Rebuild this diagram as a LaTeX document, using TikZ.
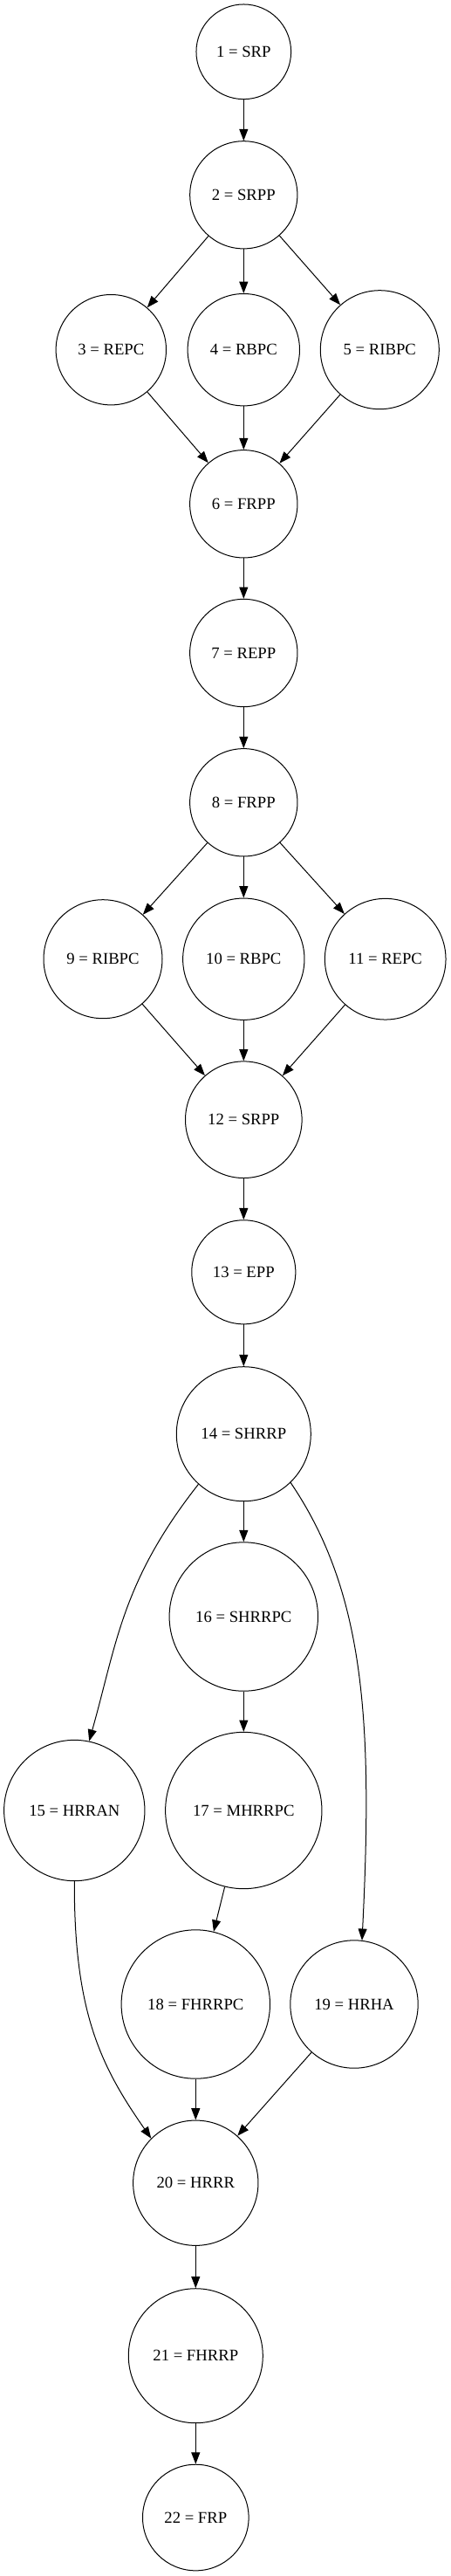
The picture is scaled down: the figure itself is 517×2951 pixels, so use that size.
\documentclass[tikz,border=0pt]{standalone}
\usepackage{fontspec}
\setmainfont{Liberation Serif}
\usetikzlibrary{arrows.meta}

\begin{document}
\begin{tikzpicture}[x=0.75pt,y=-0.75pt,line width=0.75pt,
        state/.style={circle,draw,inner sep=0pt,font=\fontsize{14}{16}\selectfont},
        edge/.style={-{Triangle[length=10pt,width=7.5pt]}}]
        \useasboundingbox (0,0) rectangle (517,2951);
        \coordinate (p1) at (279.3,59.3);
        \coordinate (p2) at (279.3,223.3);
        \coordinate (p3) at (127.3,400.7);
        \coordinate (p4) at (279.3,400.7);
        \coordinate (p5) at (435.3,400.7);
        \coordinate (p6) at (279.3,577.3);
        \coordinate (p7) at (279.3,748.0);
        \coordinate (p8) at (279.3,919.3);
        \coordinate (p9) at (118.0,1098.7);
        \coordinate (p10) at (279.3,1098.7);
        \coordinate (p11) at (441.7,1098.7);
        \coordinate (p12) at (279.3,1282.7);
        \coordinate (p13) at (279.3,1457.3);
        \coordinate (p14) at (279.3,1642.7);
        \coordinate (p15) at (85.3,2074.0);
        \coordinate (p16) at (279.3,1852.0);
        \coordinate (p17) at (279.3,2074.0);
        \coordinate (p18) at (224.3,2296.0);
        \coordinate (p19) at (406.0,2296.0);
        \coordinate (p20) at (224.3,2500.7);
        \coordinate (p21) at (224.3,2698.7);
        \coordinate (p22) at (224.3,2884.0);
        \node[state,minimum size=81.5pt] (n1) at (p1) {1 = SRP};
        \node[state,minimum size=92.4pt] (n2) at (p2) {2 = SRPP};
        \node[state,minimum size=94.8pt] (n3) at (p3) {3 = REPC};
        \node[state,minimum size=96.3pt] (n4) at (p4) {4 = RBPC};
        \node[state,minimum size=102pt] (n5) at (p5) {5 = RIBPC};
        \node[state,minimum size=92.5pt] (n6) at (p6) {6 = FRPP};
        \node[state,minimum size=92.5pt] (n7) at (p7) {7 = REPP};
        \node[state,minimum size=92.5pt] (n8) at (p8) {8 = FRPP};
        \node[state,minimum size=102pt] (n9) at (p9) {9 = RIBPC};
        \node[state,minimum size=104.5pt] (n10) at (p10) {10 = RBPC};
        \node[state,minimum size=104pt] (n11) at (p11) {11 = REPC};
        \node[state,minimum size=100.2pt] (n12) at (p12) {12 = SRPP};
        \node[state,minimum size=89.3pt] (n13) at (p13) {13 = EPP};
        \node[state,minimum size=115.5pt] (n14) at (p14) {14 = SHRRP};
        \node[state,minimum size=121pt] (n15) at (p15) {15 = HRRAN};
        \node[state,minimum size=127.8pt] (n16) at (p16) {16 = SHRRPC};
        \node[state,minimum size=134.5pt] (n17) at (p17) {17 = MHRRPC};
        \node[state,minimum size=127.8pt] (n18) at (p18) {18 = FHRRPC};
        \node[state,minimum size=109.8pt] (n19) at (p19) {19 = HRHA};
        \node[state,minimum size=107.5pt] (n20) at (p20) {20 = HRRR};
        \node[state,minimum size=115.5pt] (n21) at (p21) {21 = FHRRP};
        \node[state,minimum size=91.2pt] (n22) at (p22) {22 = FRP};
        \draw[edge] (n1) -- (n2);
        \draw[edge] (n2) -- (n3);
        \draw[edge] (n2) -- (n4);
        \draw[edge] (n2) -- (n5);
        \draw[edge] (n3) -- (n6);
        \draw[edge] (n4) -- (n6);
        \draw[edge] (n5) -- (n6);
        \draw[edge] (n6) -- (n7);
        \draw[edge] (n7) -- (n8);
        \draw[edge] (n8) -- (n9);
        \draw[edge] (n8) -- (n10);
        \draw[edge] (n8) -- (n11);
        \draw[edge] (n9) -- (n12);
        \draw[edge] (n10) -- (n12);
        \draw[edge] (n11) -- (n12);
        \draw[edge] (n12) -- (n13);
        \draw[edge] (n13) -- (n14);
        \draw[edge] (n14) -- (n16);
        \draw[edge] (n16) -- (n17);
        \draw[edge] (n17) -- (n18);
        \draw[edge] (n18) -- (n20);
        \draw[edge] (n19) -- (n20);
        \draw[edge] (n20) -- (n21);
        \draw[edge] (n21) -- (n22);
        % curved ones
        \draw[edge] (n14.228) .. controls (139.9,1811.6) and (134.1,1881.5) .. (n15.78);
        \draw[edge] (n14.314) .. controls (418.3,1823.8) and (427.5,1973.3) .. (n19.83);
        \draw[edge] (n15.270) .. controls (84.7,2305.3) and (115.7,2367.3) .. (n20.135);
\end{tikzpicture}
\end{document}
